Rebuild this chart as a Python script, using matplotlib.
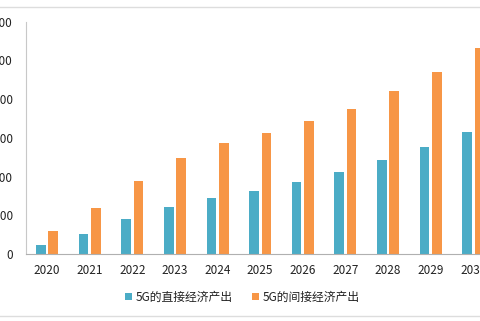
import matplotlib
matplotlib.use("Agg")
import matplotlib.pyplot as plt
import numpy as np

plt.rcParams['font.family'] = ['Noto Sans CJK SC', 'DejaVu Sans']
plt.rcParams['axes.unicode_minus'] = False

# 数据
years = ['2020', '2021', '2022', '2023', '2024', '2025', '2026', '2027', '2028', '2029', '2030']
direct = [4500, 10200, 17900, 24300, 28900, 32700, 37200, 42200, 48600, 55300, 63200]
indirect = [12000, 23600, 37600, 49800, 57400, 62500, 68900, 75100, 84400, 94200, 106500]
labels = ['5G的直接经济产出', '5G的间接经济产出']
colors = ['#4BACC6', '#F79646']

fig = plt.figure(figsize=(4.8, 3.21), dpi=100)
ax = fig.add_axes([0.0535, 0.2087, 0.977, 0.7237])

x = np.arange(len(years))
w = 0.227
gap = 0.063
ax.bar(x - (w + gap) / 2, direct, w, color=colors[0], label=labels[0])
ax.bar(x + (w + gap) / 2, indirect, w, color=colors[1], label=labels[1])

ax.set_xlim(-0.5, len(years) - 0.5)
ax.set_ylim(0, 120000)
ax.set_yticks(np.arange(0, 120001, 20000))
ax.set_xticks(x)
ax.set_xticklabels(years)
ax.tick_params(axis='both', length=0, labelsize=8.5, colors='#222222')
ax.tick_params(axis='y', pad=9)
ax.tick_params(axis='x', pad=7)
for s in ['top', 'right']:
    ax.spines[s].set_visible(False)
ax.spines['left'].set_color('#c8c8c8')
ax.spines['bottom'].set_color('#b0b0b0')
ax.spines['left'].set_linewidth(0.8)
ax.spines['bottom'].set_linewidth(0.8)

fig.legend(loc='center', bbox_to_anchor=(0.505, 0.075), ncol=2, frameon=False,
           fontsize=8.5, handlelength=0.6, handleheight=0.6, handletextpad=0.3,
           columnspacing=1.6, labelcolor='#222222')

# 外框线
fig.add_artist(plt.Line2D([0, 1], [1 - 7 / 321, 1 - 7 / 321], color='#dddddd', lw=1))
fig.add_artist(plt.Line2D([0, 1], [1 - 316 / 321, 1 - 316 / 321], color='#dddddd', lw=1))

fig.savefig('out.png', dpi=100)
